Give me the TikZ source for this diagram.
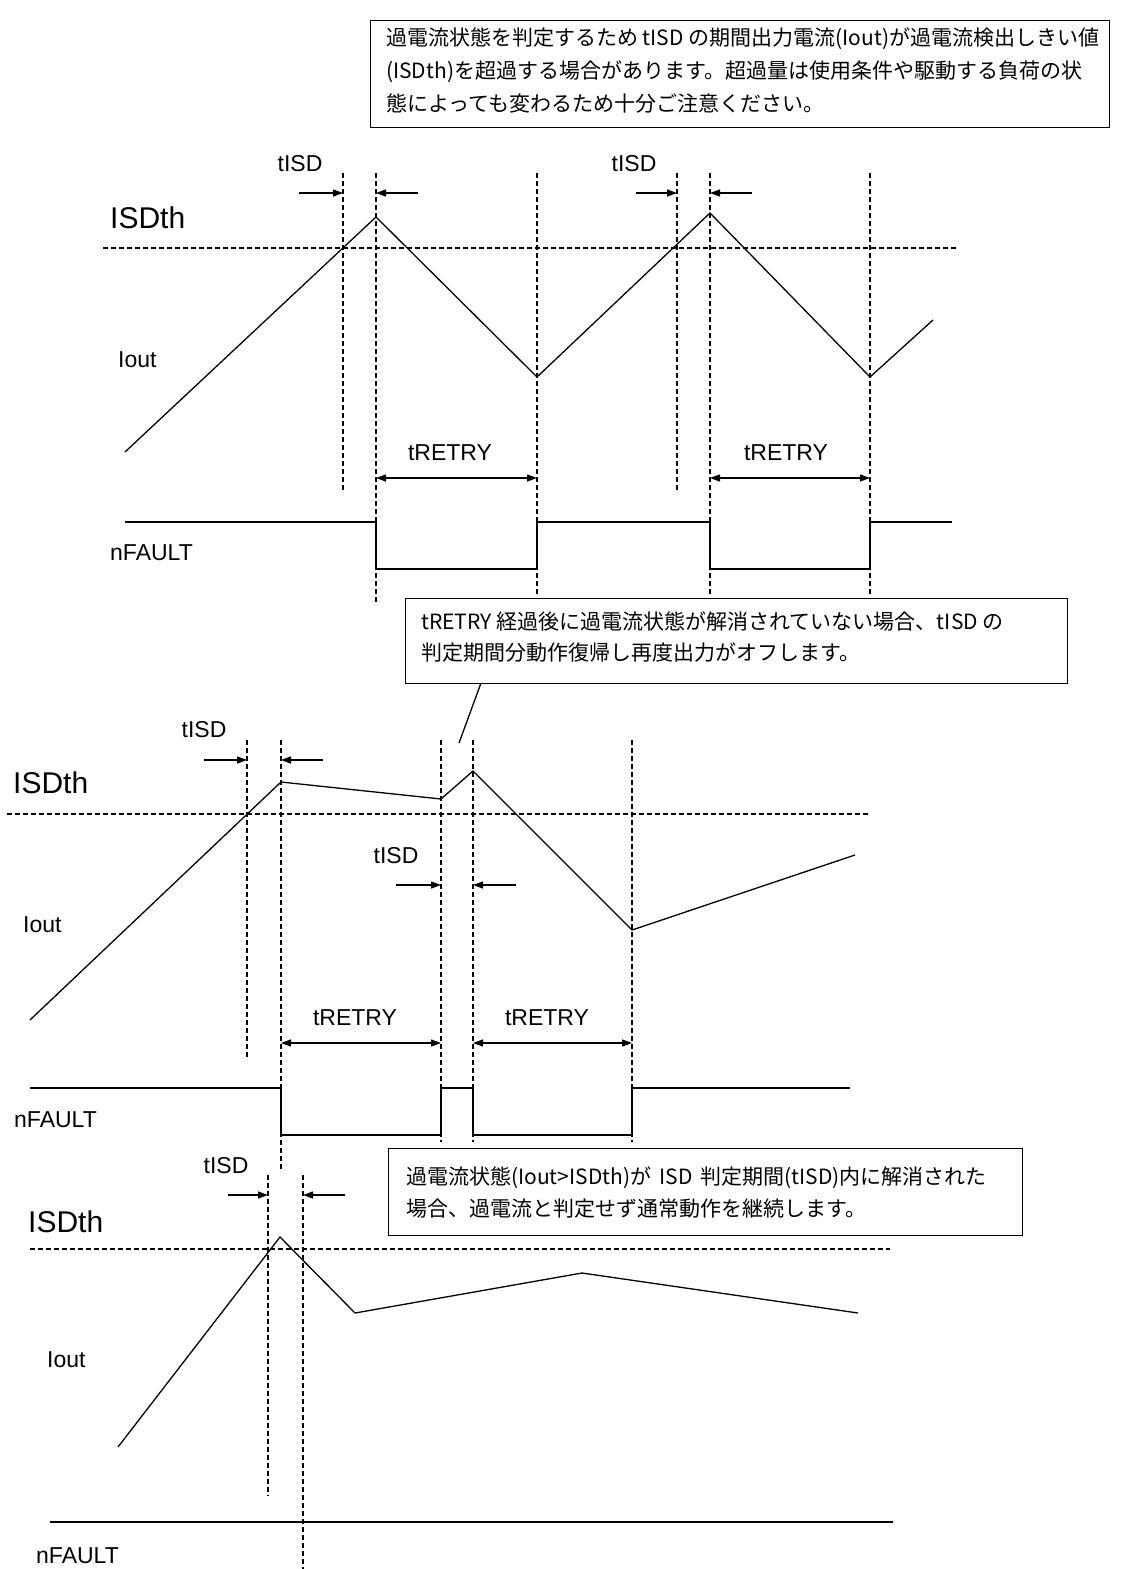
\documentclass[tikz,border=0pt]{standalone}
\usepackage{fontspec}
\setmainfont{Liberation Sans}
\newfontfamily\jpfont{Noto Sans CJK JP}
\usetikzlibrary{arrows.meta}
\begin{document}
\begin{tikzpicture}[x=1pt,y=-1pt,
  wave/.style={line width=1.3pt, line join=miter},
  fault/.style={line width=1.6pt},
  guide/.style={line width=1.1pt, dash pattern=on 5pt off 3pt},
  dim/.style={line width=1.3pt, -{Triangle[length=10pt,width=7pt]}},
  dimboth/.style={line width=1.3pt, {Triangle[length=10pt,width=7pt]}-{Triangle[length=10pt,width=7pt]}},
  lbl/.style={font=\fontsize{23}{27}\selectfont, inner sep=0pt},
  big/.style={font=\fontsize{30}{34}\selectfont, inner sep=0pt, anchor=west},
  note/.style={draw, line width=1.3pt, inner sep=0pt, anchor=north west},
  notetext/.style={align=left, inner sep=0pt, anchor=west}
]
\useasboundingbox (0,0) rectangle (1121,1569);

% ---------------- notes ----------------
\node[note, minimum width=739pt, minimum height=107pt] (note1) at (370,20) {};
\node[notetext, font=\jpfont\fontsize{21}{33}\selectfont] (note1t) at (386,71)
  {過電流状態を判定するため tISD の期間出力電流(Iout)が過電流検出しきい値\\(ISDth)を超過する場合があります。超過量は使用条件や駆動する負荷の状\\態によっても変わるため十分ご注意ください。};

\node[note, minimum width=662pt, minimum height=85pt] (note2) at (405,598) {};
\node[notetext, font=\jpfont\fontsize{21}{30}\selectfont] (note2t) at (421,637)
  {tRETRY 経過後に過電流状態が解消されていない場合、tISD の\\判定期間分動作復帰し再度出力がオフします。};
\coordinate (call) at (459,743);
\draw[wave] (481,683) -- (call);

\node[note, minimum width=634pt, minimum height=87pt] (note3) at (388,1148) {};
\node[notetext, font=\jpfont\fontsize{21}{32}\selectfont] (note3t) at (406,1192)
  {過電流状態(Iout>ISDth)が\hspace{8pt}ISD\hspace{8pt}判定期間(tISD)内に解消された\\場合、過電流と判定せず通常動作を継続します。};

% ---------------- section 1 ----------------
\draw[guide] (103,248) -- (957,248);
\foreach \x/\b in {343/493,376/605,537/595,677/493,710/595,870/595}
  \draw[guide] (\x,173) -- (\x,\b);
\draw[wave] (125,452) -- (376,217) -- (537,377) -- (710,213) -- (870,377) -- (933,320);
\draw[dim] (299,193) -- (343,193);
\draw[dim] (418,193) -- (376,193);
\draw[dim] (636,193) -- (677,193);
\draw[dim] (752,193) -- (710,193);
\draw[dimboth] (376,478) -- (537,478);
\draw[dimboth] (710,478) -- (870,478);
\draw[fault] (125,522) -- (376,522) -- (376,569) -- (537,569) -- (537,522) -- (710,522)
  -- (710,569) -- (870,569) -- (870,522) -- (952,522);
\node[big] (isdth1) at (110,218) {ISDth};
\node[lbl, anchor=west] (iout1) at (118,360) {Iout};
\node[lbl, anchor=west] (nf1) at (110,553) {nFAULT};
\node[lbl] (tisd1) at (300,164) {tISD};
\node[lbl] (tisd2) at (634,164) {tISD};
\node[lbl] (tr1) at (450,453) {tRETRY};
\node[lbl] (tr2) at (786,453) {tRETRY};

% ---------------- section 2 ----------------
\draw[guide] (7,814) -- (870,814);
\foreach \x/\b in {247/1060,281/1172,441/1142,473/1142,632/1142}
  \draw[guide] (\x,740) -- (\x,\b);
\draw[wave] (30,1020) -- (281,782) -- (441,799) -- (473,771) -- (632,930) -- (855,855);
\draw[dim] (204,760) -- (247,760);
\draw[dim] (323,760) -- (281,760);
\draw[dim] (396,885) -- (441,885);
\draw[dim] (516,885) -- (473,885);
\draw[dimboth] (281,1043) -- (441,1043);
\draw[dimboth] (473,1043) -- (632,1043);
\draw[fault] (30,1088) -- (281,1088) -- (281,1135) -- (441,1135) -- (441,1088) -- (473,1088)
  -- (473,1135) -- (632,1135) -- (632,1088) -- (850,1088);
\node[big] (isdth2) at (13,783) {ISDth};
\node[lbl, anchor=west] (iout2) at (23,925) {Iout};
\node[lbl, anchor=west] (nf2) at (14,1120) {nFAULT};
\node[lbl] (tisd3) at (204,730) {tISD};
\node[lbl] (tisd4) at (396,856) {tISD};
\node[lbl] (tr3) at (355,1018) {tRETRY};
\node[lbl] (tr4) at (547,1018) {tRETRY};

% ---------------- section 3 ----------------
\draw[guide] (30,1249) -- (890,1249);
\draw[guide] (268,1175) -- (268,1496);
\draw[guide] (303,1175) -- (303,1569);
\draw[wave] (118,1447) -- (280,1237) -- (355,1313) -- (582,1273) -- (858,1313);
\draw[dim] (228,1195) -- (268,1195);
\draw[dim] (345,1195) -- (303,1195);
\draw[fault] (50,1522) -- (893,1522);
\node[lbl] (tisd5) at (226,1166) {tISD};
\node[big] (isdth3) at (28,1222) {ISDth};
\node[lbl, anchor=west] (iout3) at (47,1360) {Iout};
\node[lbl, anchor=west] (nf3) at (36,1556) {nFAULT};
\end{tikzpicture}
\end{document}
